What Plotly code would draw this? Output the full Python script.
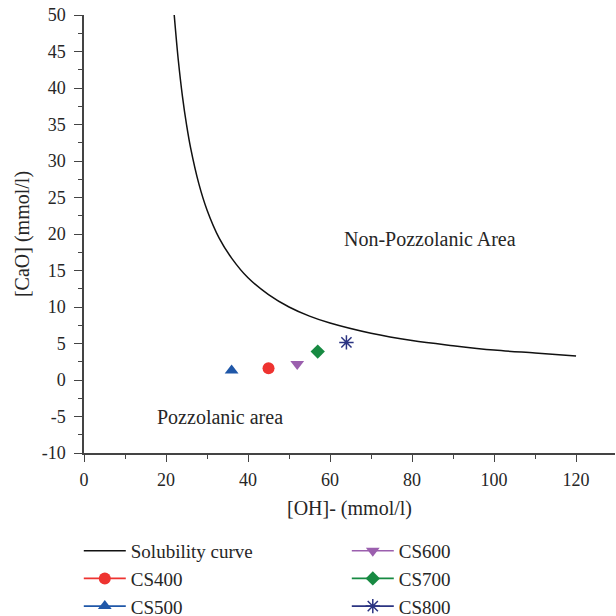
import plotly.graph_objects as go

# Solubility curve
curve_oh = [22, 23, 24, 25, 26, 28, 30, 33, 36, 40, 45, 50, 55, 60, 70, 80, 90, 100, 110, 120]
curve_cao = [50, 43.8, 38.9, 35.0, 31.8, 26.9, 23.3, 19.4, 16.7, 14.0, 11.7, 10.0, 8.75, 7.8, 6.4, 5.4, 4.7, 4.1, 3.7, 3.3]

# Samples
names = ["CS400", "CS500", "CS600", "CS700", "CS800"]
oh_vals = [45, 36, 52, 57, 64]
cao_vals = [1.6, 1.3, 2.2, 3.9, 5.15]
colors = ["#ee3330", "#1f57a8", "#9b5fae", "#178a42", "#2b3482"]
symbols = ["circle", "triangle-up", "triangle-down", "diamond", "asterisk-open"]
sizes = [12, 12, 12, 11, 12]

# Tick labels
x_ticks = [0, 20, 40, 60, 80, 100, 120]
x_ticktext = ["0", "20", "40", "60", "80", "100", "120"]
y_ticks = [-10, -5, 0, 5, 10, 15, 20, 25, 30, 35, 40, 45, 50]
y_ticktext = ["-10", "-5", "0", "5", "10", "15", "20", "25", "30", "35", "40", "45", "50"]

FONT = "Liberation Serif, Times New Roman, serif"
TXT = "#262626"

fig = go.Figure()
fig.add_trace(go.Scatter(x=curve_oh, y=curve_cao, mode="lines", name="Solubility curve",
                         legendrank=1,
                         line=dict(color="#111111", width=1.5, shape="spline")))

# horizontal legend fills rows: Solubility, CS600 / CS400, CS700 / CS500, CS800
legend_rank = [3, 5, 2, 4, 6]
for i in range(5):
    is_ast = symbols[i] == "asterisk-open"
    fig.add_trace(go.Scatter(
        x=[oh_vals[i]], y=[cao_vals[i]], mode="lines+markers", name=names[i],
        legendrank=legend_rank[i],
        line=dict(color=colors[i], width=1.6),
        marker=dict(color=colors[i], symbol=symbols[i], size=sizes[i],
                    line=dict(color=colors[i], width=1.5 if is_ast else 0)),
    ))

fig.add_annotation(x=84.3, y=19.3, text="Non-Pozzolanic Area", showarrow=False,
                   font=dict(family=FONT, size=20, color=TXT))
fig.add_annotation(x=33.2, y=-5.0, text="Pozzolanic area", showarrow=False,
                   font=dict(family=FONT, size=20, color=TXT))

axis_common = dict(showgrid=False, zeroline=False, showline=True, linecolor="#444444", linewidth=1.5,
                   ticks="outside", tickwidth=1.3, tickcolor="#444444", automargin=False,
                   ticklabeloverflow="allow",
                   tickfont=dict(family=FONT, size=18, color=TXT),
                   title_font=dict(family=FONT, size=20, color=TXT))

fig.update_xaxes(range=[0, 129.5], tickmode="array", tickvals=x_ticks, ticktext=x_ticktext,
                 ticklen=7, ticklabelstandoff=3,
                 minor=dict(ticks="outside", ticklen=4, dtick=10, tick0=0, tickcolor="#444444", tickwidth=1.2),
                 title_text="[OH]- (mmol/l)", title_standoff=12, **axis_common)
fig.update_yaxes(range=[-10, 50], tickmode="array", tickvals=y_ticks, ticktext=y_ticktext,
                 ticklen=8, ticklabelstandoff=5,
                 minor=dict(ticks="outside", ticklen=4, dtick=2.5, tick0=0, tickcolor="#444444", tickwidth=1.2),
                 title_text="[CaO] (mmol/l)", title_standoff=7, **axis_common)

fig.update_layout(
    width=616, height=616,
    margin=dict(l=84, r=1, t=15, b=163, autoexpand=False),
    plot_bgcolor="white", paper_bgcolor="white",
    font=dict(family=FONT, color=TXT),
    legend=dict(orientation="h", x=-0.0098, y=-0.180, xanchor="left", yanchor="top",
                entrywidthmode="pixels", entrywidth=211,
                font=dict(family=FONT, size=19, color=TXT),
                traceorder="normal", itemwidth=42),
    showlegend=True,
)

# remove the default 8px body margin so the 616px figure fills the window
fig.write_html("out.html", config={"displayModeBar": False},
               post_script="document.body.style.margin='0';")
